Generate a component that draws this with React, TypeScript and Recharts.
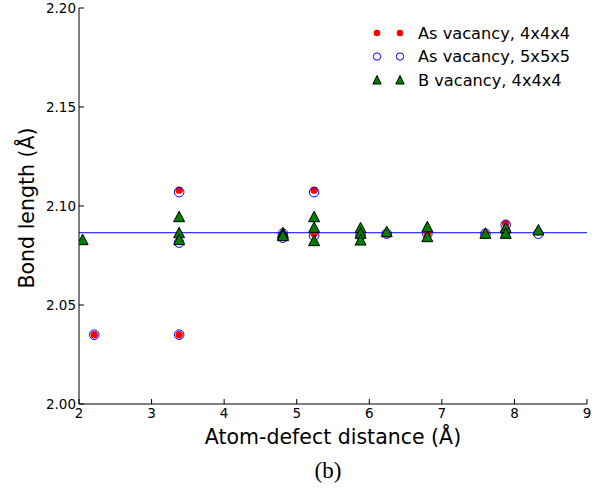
import React from 'react';
import {
  ScatterChart,
  Scatter,
  XAxis,
  YAxis,
  ReferenceLine,
  Legend,
} from 'recharts';

// distances (Å) and bond lengths (Å)
const asVac4X = [2.21, 3.38, 3.38, 4.81, 5.24, 5.24, 5.88, 6.24, 6.8, 7.6, 7.88, 7.88, 8.33];
const asVac4Y = [2.035, 2.108, 2.035, 2.085, 2.108, 2.086, 2.085, 2.086, 2.086, 2.086, 2.091, 2.088, 2.087];

const asVac5X = [2.21, 3.38, 3.38, 3.38, 4.81, 4.81, 5.24, 5.24, 5.88, 6.24, 6.8, 7.6, 7.88, 7.88, 8.33];
const asVac5Y = [2.035, 2.107, 2.035, 2.0815, 2.084, 2.086, 2.107, 2.085, 2.085, 2.086, 2.086, 2.086, 2.0905, 2.087, 2.086];

const bVac4X = [2.05, 3.38, 3.38, 3.38, 4.81, 4.81, 4.81, 5.24, 5.24, 5.24, 5.88, 5.88, 5.88, 6.24, 6.8, 6.8, 7.6, 7.88, 7.88, 8.33];
const bVac4Y = [2.083, 2.0946, 2.0865, 2.083, 2.0865, 2.0855, 2.085, 2.0946, 2.0892, 2.0825, 2.089, 2.0862, 2.0828, 2.087, 2.0895, 2.0845, 2.0862, 2.089, 2.0862, 2.0879];

const bulkBond = 2.0865;

const xTicks = [2, 3, 4, 5, 6, 7, 8, 9];
const yTicks = [2.0, 2.05, 2.1, 2.15, 2.2];

const seriesNames = ['As vacancy, 4x4x4', 'As vacancy, 5x5x5', 'B vacancy, 4x4x4'];

const zip = (xs: number[], ys: number[]) => xs.map((x, i) => ({ x, y: ys[i] }));

const FONT = 'DejaVu Sans, sans-serif';

const RedDot = ({ cx, cy }: any) => <circle cx={cx} cy={cy} r={3.7} fill="#ff0000" />;
const BlueRing = ({ cx, cy }: any) => (
  <circle cx={cx} cy={cy} r={4.8} fill="none" stroke="#0000ff" strokeWidth={1} />
);
const GreenTri = ({ cx, cy }: any) => (
  <polygon
    points={`${cx},${cy - 5.5} ${cx - 5.5},${cy + 5} ${cx + 5.5},${cy + 5}`}
    fill="#007f00"
    stroke="#000"
    strokeWidth={1}
  />
);

const markerFor = (i: number, cx: number, cy: number) => {
  if (i === 0) return <circle cx={cx} cy={cy} r={3.3} fill="#ff0000" />;
  if (i === 1) return <circle cx={cx} cy={cy} r={3.7} fill="none" stroke="#0000ff" strokeWidth={1} />;
  return (
    <polygon
      points={`${cx},${cy - 4.5} ${cx - 4.2},${cy + 4} ${cx + 4.2},${cy + 4}`}
      fill="#007f00"
      stroke="#000"
      strokeWidth={1}
    />
  );
};

const renderLegend = () => (
  <svg width={230} height={80}>
    {seriesNames.map((name, i) => (
      <g key={name}>
        {markerFor(i, 27, 12 + i * 23.5)}
        {markerFor(i, 50, 12 + i * 23.5)}
        <text x={68} y={12 + i * 23.5} dominantBaseline="central" fontSize={16.2} fontFamily={FONT} fill="#000">
          {name}
        </text>
      </g>
    ))}
  </svg>
);

const YLabel = () => (
  <text
    x={27}
    y={208}
    transform="rotate(-90 27 208)"
    textAnchor="middle"
    dominantBaseline="central"
    fontSize={20.5}
    fontFamily={FONT}
    fill="#000"
  >
    Bond length (Å)
  </text>
);

export default function App() {
  return (
    <div style={{ position: 'absolute', left: 0, top: 0, width: 603, height: 493, background: '#fff' }}>
      <ScatterChart width={603} height={493} margin={{ top: 8, right: 16, left: 19, bottom: 65 }}>
        <XAxis
          type="number"
          dataKey="x"
          domain={[2, 9]}
          ticks={xTicks}
          allowDataOverflow
          height={24}
          stroke="#000"
          tickSize={-5}
          tickMargin={9}
          tick={{ fill: '#000', fontSize: 13.5, fontFamily: FONT }}
          label={{ value: 'Atom-defect distance (Å)', position: 'bottom', offset: 1, fontSize: 20.5, fontFamily: FONT, fill: '#000' }}
        />
        <XAxis
          xAxisId="top"
          orientation="top"
          type="number"
          domain={[2, 9]}
          ticks={xTicks}
          height={0}
          stroke="#000"
          tickSize={-5}
          tickFormatter={() => ''}
        />
        <YAxis
          type="number"
          dataKey="y"
          domain={[2.0, 2.2]}
          ticks={yTicks}
          allowDataOverflow
          width={60}
          stroke="#000"
          tickSize={-5}
          tickMargin={8}
          tickFormatter={(v: number) => v.toFixed(2)}
          tick={{ fill: '#000', fontSize: 13.5, fontFamily: FONT }}
          label={{ content: () => <YLabel /> }}
        />
        <YAxis
          yAxisId="right"
          orientation="right"
          type="number"
          domain={[2.0, 2.2]}
          ticks={yTicks}
          width={0}
          stroke="#000"
          tickSize={-5}
          tickFormatter={() => ''}
        />
        <ReferenceLine y={bulkBond} stroke="#0000ff" strokeWidth={1} />
        <Scatter name={seriesNames[0]} data={zip(asVac4X, asVac4Y)} shape={RedDot} isAnimationActive={false} />
        <Scatter name={seriesNames[1]} data={zip(asVac5X, asVac5Y)} shape={BlueRing} isAnimationActive={false} />
        <Scatter name={seriesNames[2]} data={zip(bVac4X, bVac4Y)} shape={GreenTri} isAnimationActive={false} />
        <Legend
          layout="horizontal"
          verticalAlign="middle"
          align="center"
          content={renderLegend}
          wrapperStyle={{ position: 'absolute', left: 350, top: 21, width: 230, height: 80 }}
        />
      </ScatterChart>
      <div
        style={{
          position: 'absolute',
          left: 0,
          width: 656,
          top: 458,
          textAlign: 'center',
          fontSize: 23,
          fontFamily: 'serif',
          color: '#000',
        }}
      >
        (b)
      </div>
    </div>
  );
}
